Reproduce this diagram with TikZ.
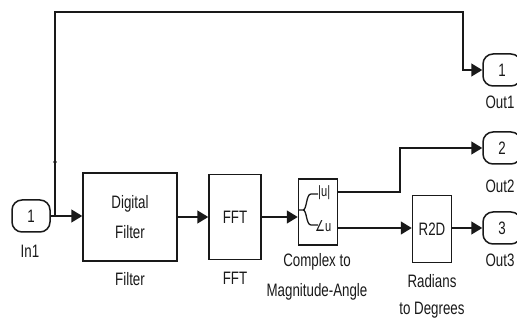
\documentclass[tikz,border=0pt]{standalone}
\usepackage{fontspec}
\setmainfont{Liberation Sans}
\newfontfamily\symfont{DejaVu Sans}
\usetikzlibrary{arrows.meta,calc,positioning}
\newcommand{\nrw}[1]{\scalebox{0.74}[1]{#1}}

\begin{document}
\begin{tikzpicture}[x=1pt,y=-1pt,>={Triangle[length=11pt,width=13pt]},
  blk/.style={draw=black!90,line width=1.5pt,inner sep=0pt,align=center,
    font=\fontsize{18}{30}\selectfont,text=black!90},
  port/.style={blk,rounded corners=10pt,minimum width=38pt,minimum height=32pt},
  sig/.style={->,line width=1.5pt,draw=black!90},
  lbl/.style={font=\fontsize{18}{30}\selectfont,text=black!90,align=center,inner sep=0pt}]
\useasboundingbox (0,0) rectangle (517,320);
% blocks
\node[port] (in1) at (31,216) {\nrw{1}};
\node[blk,minimum width=94pt,minimum height=88pt] (filter) at (130,217) {\nrw{Digital}\\\nrw{Filter}};
\node[blk,minimum width=52pt,minimum height=85pt] (fft) at (235,217) {\nrw{FFT}};
\node[blk,minimum width=39pt,minimum height=66pt] (c2ma) at (318,212) {};
\node[blk,minimum width=39pt,minimum height=67pt] (r2d) at (432,229) {\nrw{R2D}};
\node[port] (out1) at (502,70) {\nrw{1}};
\node[port] (out2) at (502,148) {\nrw{2}};
\node[port] (out3) at (502,228) {\nrw{3}};
% block names
\node[lbl] (in1name) at (30,251) {\nrw{In1}};
\node[lbl] (filtername) at (130,279) {\nrw{Filter}};
\node[lbl] (fftname) at (235,278) {\nrw{FFT}};
\node[lbl] (c2maname) at (317,277) {\nrw{Complex to}\\\nrw{Magnitude-Angle}};
\node[lbl,font=\fontsize{18}{27}\selectfont] (r2dname) at (432,296) {\nrw{Radians}\\\nrw{to Degrees}};
\node[lbl] (out1name) at (500,102) {\nrw{Out1}};
\node[lbl] (out2name) at (500,186) {\nrw{Out2}};
\node[lbl] (out3name) at (500,260) {\nrw{Out3}};
% inside complex to magnitude-angle
\draw[line width=1.3pt,black!90] (298,210) -- (303,210)
  (303,210) .. controls (307,210) and (306,194) .. (311,194) -- (318,194)
  (303,210) .. controls (307,210) and (306,225) .. (311,225) -- (318,225);
\node[lbl,font=\fontsize{15}{17}\selectfont,anchor=west] (absu) at (318,193) {\nrw{|u|}};
\node[lbl,font=\fontsize{15}{17}\selectfont,anchor=west] (angu) at (315,226) {\nrw{{\symfont\char"2220}u}};
% signals
\coordinate (jn) at (55,216);
\coordinate (topr) at (463,12);
\coordinate (mag) at (337,192);
\coordinate (ang) at (337,228);
\coordinate (bend) at (400,192);
\draw[sig] (in1.east) -- (in1.east -| filter.west);
\draw[sig] (filter.east |- fft.west) -- (fft.west);
\draw[sig] (fft.east) -- (fft.east -| c2ma.west);
\draw[sig] (ang) -- (ang -| r2d.west);
\draw[sig] (r2d.east |- out3.west) -- (out3.west);
\draw[sig] (jn) |- (topr) |- (out1.west);
\draw[sig] (mag) -- (bend) |- (out2.west);
\fill[black!90] (55,162) circle (1.8pt);
\end{tikzpicture}
\end{document}
